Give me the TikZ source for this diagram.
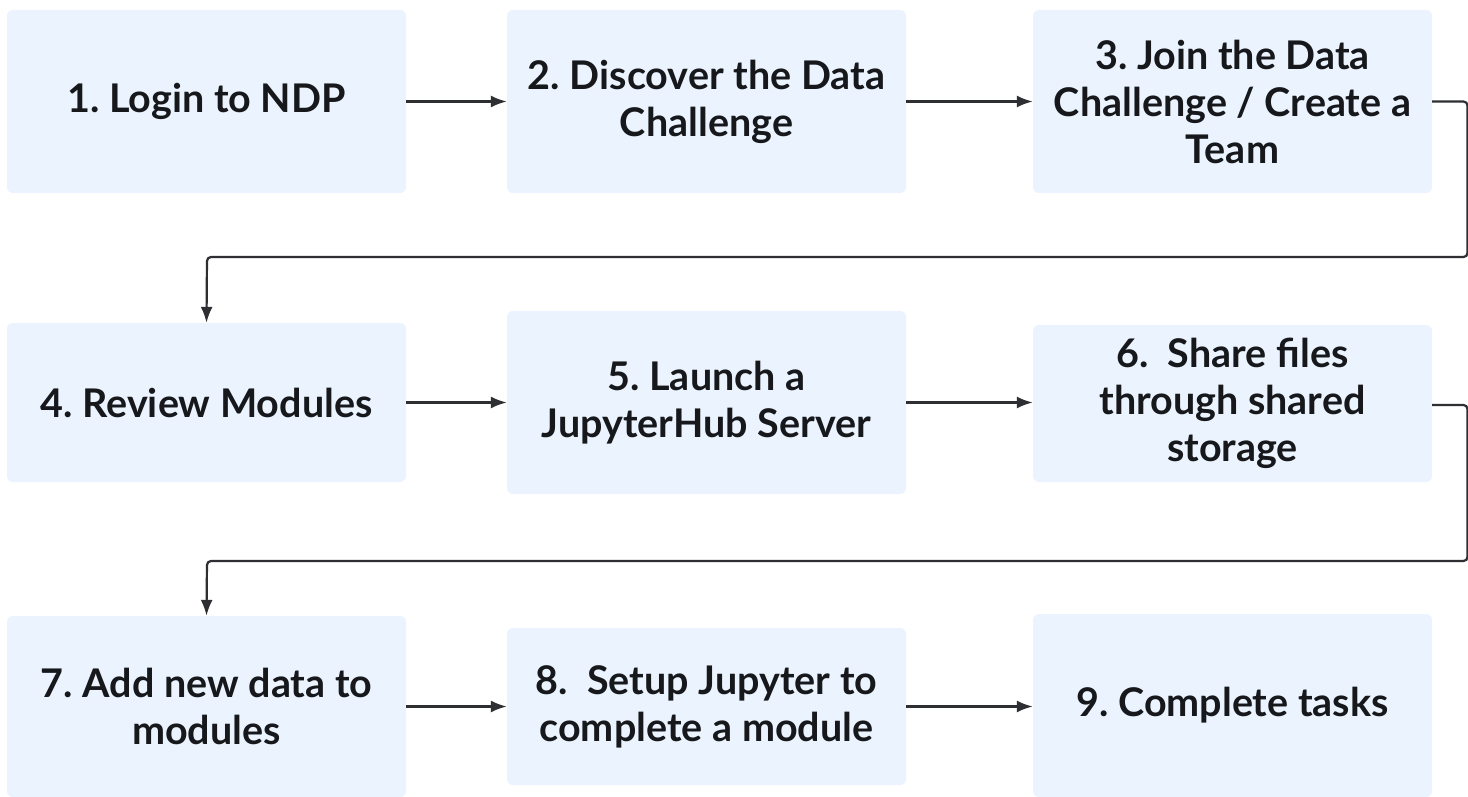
\documentclass[tikz,border=0pt]{standalone}
\usepackage{fontspec}
\setmainfont{Lato}
\usetikzlibrary{arrows.meta}
\definecolor{boxfill}{RGB}{235,244,254}
\definecolor{linecol}{RGB}{45,47,51}
\definecolor{txtcol}{RGB}{22,24,28}
\frenchspacing
\begin{document}
\begin{tikzpicture}[x=1pt,y=-1pt,
  stepbox/.style={rectangle, rounded corners=6pt, fill=boxfill, draw=none,
    minimum width=399pt, align=center, text=txtcol,
    font=\bfseries\fontsize{39.5}{47}\selectfont, inner sep=0pt},
  conn/.style={draw=linecol, line width=2.2pt, -{Latex[length=16pt,width=12pt]}},
  wire/.style={draw=linecol, line width=2.2pt, rounded corners=4pt, -{Latex[length=16pt,width=12pt]}}]
\useasboundingbox (0,0) rectangle (1468,797);
\clip (0,0) rectangle (1468,797);
\fill[white] (0,0) rectangle (1468,797);
% row 1
\node[stepbox, minimum height=183pt] (b1) at (206.5,101.5) {1. Login to NDP};
\node[stepbox, minimum height=183pt] (b2) at (706.5,101.5) {2. Discover the Data\\Challenge};
\node[stepbox, minimum height=183pt] (b3) at (1232.5,101.5) {3. Join the Data\\Challenge / Create a\\Team};
% row 2
\node[stepbox, minimum height=159pt] (b4) at (206.5,402.5) {4. Review Modules};
\node[stepbox, minimum height=183pt] (b5) at (706.5,402.5) {5. Launch a\\JupyterHub Server};
\node[stepbox, minimum height=157pt] (b6) at (1232.5,403.5) {6.\ \ Share files\\through shared\\storage};
% row 3
\node[stepbox, minimum height=181pt] (b7) at (206.5,706.5) {7. Add new data to\\modules};
\node[stepbox, minimum height=157pt] (b8) at (706.5,706.5) {8.\ \ Setup Jupyter to\\complete a module};
\node[stepbox, minimum height=183pt] (b9) at (1232.5,705.5) {9. Complete tasks};
% connectors
\draw[conn] (b1.east) -- (b2.west);
\draw[conn] (b2.east) -- (b3.west);
\draw[conn] (b4.east) -- (b5.west);
\draw[conn] (b5.east) -- (b6.west |- b5.east);
\draw[conn] (b7.east) -- (b8.west);
\draw[conn] (b8.east) -- (b9.west |- b8.east);
\coordinate (r1) at (1467.5,101.5);
\coordinate (r1b) at (1467.5,257);
\coordinate (l1) at (207,257);
\draw[wire] (b3.east) -- (r1) -- (r1b) -- (l1) -- (b4.north);
\coordinate (r2) at (1467.5,405);
\coordinate (r2b) at (1467.5,561);
\coordinate (l2) at (207,561);
\draw[wire] (b6.east |- r2) -- (r2) -- (r2b) -- (l2) -- (b7.north);
\end{tikzpicture}
\end{document}
